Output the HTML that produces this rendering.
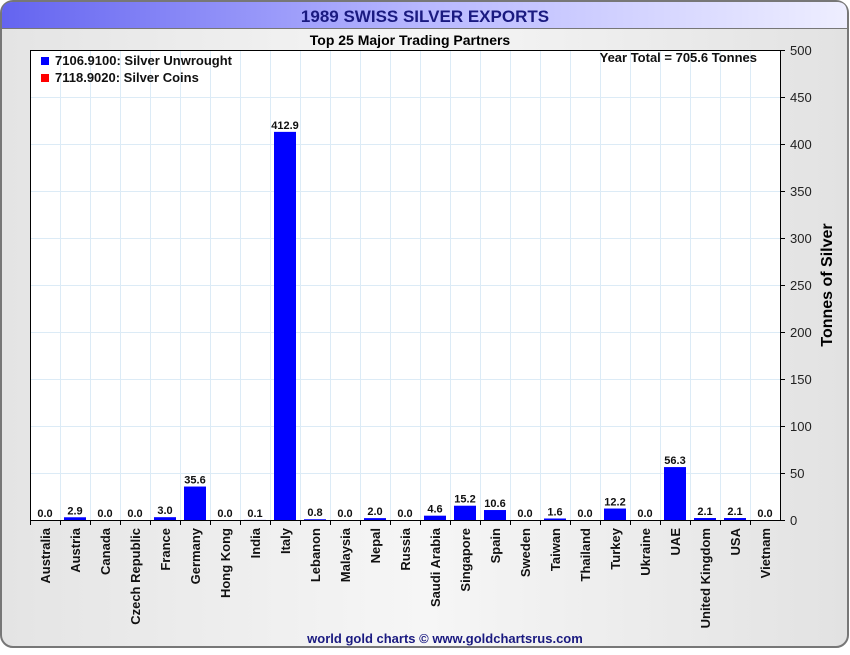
<!DOCTYPE html>
<html><head><meta charset="utf-8"><style>
body{margin:0;width:850px;height:650px;overflow:hidden;font-family:"Liberation Sans",sans-serif;background:#fff}
</style></head><body>
<svg id="c" width="850" height="650" xmlns="http://www.w3.org/2000/svg">
<defs>
<linearGradient id="tb" x1="0" x2="1" y1="0" y2="0"><stop offset="0" stop-color="#6464f0"/><stop offset="0.5" stop-color="#b8b8ff"/><stop offset="1" stop-color="#eeeeff"/></linearGradient>
<linearGradient id="bg" x1="0" x2="1" y1="0" y2="0"><stop offset="0" stop-color="#e4e4e4"/><stop offset="0.5" stop-color="#f6f6f6"/><stop offset="1" stop-color="#e2e2e2"/></linearGradient>
</defs>
<rect x="1" y="1" width="847" height="646" rx="12" fill="url(#bg)" stroke="#777" stroke-width="2"/>
<path d="M2,28 L2,13 Q2,2 13,2 L837,2 Q847,2 847,13 L847,28 Z" fill="url(#tb)"/>
<line x1="2" y1="28.5" x2="847" y2="28.5" stroke="#777"/>
<text x="425" y="22" text-anchor="middle" font-size="17" font-weight="bold" fill="#1a1a80">1989 SWISS SILVER EXPORTS</text>
<text x="410" y="45" text-anchor="middle" font-size="14" font-weight="bold" fill="#000">Top 25 Major Trading Partners</text>
<rect x="30" y="50" width="750" height="470" fill="#fff"/>
<g id="grid"></g><g id="bars"></g>
<rect x="30.5" y="50.5" width="750" height="470" fill="none" stroke="#000"/>
<g id="axes"></g>
<rect x="41" y="57" width="8" height="8" fill="#0000ff"/>
<text x="55" y="65" font-size="13" font-weight="bold" fill="#111">7106.9100: Silver Unwrought</text>
<rect x="41" y="74" width="8" height="8" fill="#ff0000"/>
<text x="55" y="82" font-size="13" font-weight="bold" fill="#111">7118.9020: Silver Coins</text>
<text x="757" y="62" text-anchor="end" font-size="13" font-weight="bold" fill="#111">Year Total = 705.6 Tonnes</text>
<text transform="translate(832,285) rotate(-90)" text-anchor="middle" font-size="16" font-weight="bold" fill="#000">Tonnes of Silver</text>
<text x="445" y="643" text-anchor="middle" font-size="13" font-weight="bold" fill="#1a1a80">world gold charts © www.goldchartsrus.com</text>
</svg>
<script>
const categories=["Australia","Austria","Canada","Czech Republic","France","Germany","Hong Kong","India","Italy","Lebanon","Malaysia","Nepal","Russia","Saudi Arabia","Singapore","Spain","Sweden","Taiwan","Thailand","Turkey","Ukraine","UAE","United Kingdom","USA","Vietnam"];
const unwrought=[0,2.9,0,0,3.0,35.6,0,0.1,412.9,0.8,0,2.0,0,4.6,15.2,10.6,0,1.6,0,12.2,0,56.3,2.1,2.1,0];
const coins=[0,0,0,0,0,0,0,0,0,0,0,0,0,0,0,0,0,0,0,0,0,0,0,0,0];
const yTicks=[0,50,100,150,200,250,300,350,400,450,500];
const NS="http://www.w3.org/2000/svg";
const L=30,R=780,T=50,B=520,yMax=500;
const bw=(R-L)/categories.length;
const y=v=>B-(v/yMax)*(B-T);
const x=i=>L+i*bw;
function mk(tag,a,p){const e=document.createElementNS(NS,tag);for(const k in a)e.setAttribute(k,a[k]);p.appendChild(e);return e;}
const grid=document.getElementById('grid'),bars=document.getElementById('bars'),axes=document.getElementById('axes');
yTicks.forEach(t=>{
 if(t>0&&t<yMax){const g=mk('line',{x1:L,x2:R,y1:y(t)+.5,y2:y(t)+.5,stroke:'#dcebf6'},grid);
 
 }
 const tk=mk('line',{x1:R,x2:R+5,y1:y(t)+.5,y2:y(t)+.5,stroke:'#000'},axes);
 
 
 const tx=mk('text',{x:R+10,y:y(t)+5,'font-size':13,fill:'#222'},axes);tx.textContent=t;
 
 
});
categories.forEach((c,i)=>{
 if(i>0){const g=mk('line',{x1:x(i)+.5,x2:x(i)+.5,y1:T,y2:B,stroke:'#dcebf6'},grid);
 
 }
 const tk=mk('line',{x1:x(i)+.5,x2:x(i)+.5,y1:B,y2:B+5,stroke:'#000'},axes);
 
 
 const v=unwrought[i];
 const b=mk('rect',{x:x(i)+4,y:y(v+coins[i]),width:bw-8,height:Math.max(B-y(v),0),fill:'#0000ff'},bars);
 
 
 const vl=mk('text',{x:x(i)+bw/2,y:y(v)-3,'text-anchor':'middle','font-size':11,'font-weight':'bold',fill:'#111'},bars);vl.textContent=v.toFixed(1);
 
 
 const cl=mk('text',{transform:`translate(${x(i)+bw/2+5},${B+8}) rotate(-90)`,'text-anchor':'end','font-size':13,'font-weight':'bold',fill:'#111'},axes);cl.textContent=c;
 
 
});
</script>
</body></html>
